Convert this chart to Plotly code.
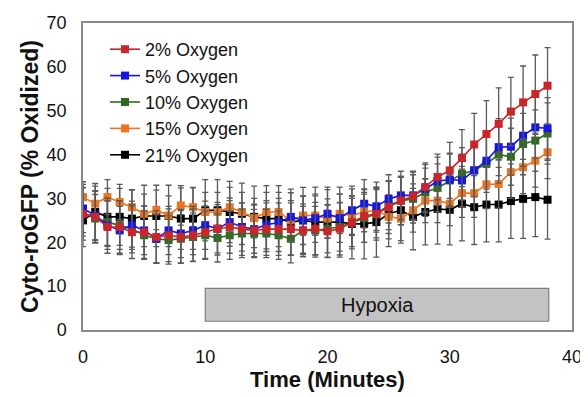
import plotly.graph_objects as go

time_min = list(range(0, 39))

o2_2 = [26.5, 25.8, 23.5, 23.5, 22.3, 22.3, 21.2, 21.6, 21.2, 21.6, 22.3, 23.1, 23.5, 23.0, 22.7, 23.0, 23.0, 23.0, 22.7, 23.1,
        22.5, 23.1, 24.5, 26.0, 26.5, 28.0, 29.5, 30.5, 32.6, 34.9, 36.4, 39.2, 42.3, 44.7, 47.0, 49.8, 51.9, 53.8, 55.7]
o2_5 = [27.7, 26.1, 23.9, 22.7, 23.9, 22.7, 20.8, 22.7, 22.0, 22.7, 23.9, 23.1, 24.6, 23.5, 23.0, 24.0, 24.5, 25.8, 25.0, 25.5,
        26.5, 25.5, 27.3, 28.8, 28.2, 29.9, 30.7, 30.7, 32.2, 33.9, 34.3, 34.1, 36.4, 38.6, 41.7, 41.8, 44.3, 46.2, 46.0]
o2_10 = [26.9, 25.4, 24.6, 23.9, 23.1, 21.6, 20.8, 20.5, 20.8, 21.2, 21.6, 21.0, 21.6, 22.0, 22.0, 22.0, 21.6, 20.8, 22.7, 22.7,
         23.1, 23.5, 24.5, 25.5, 26.5, 28.4, 29.5, 29.9, 31.4, 32.4, 34.1, 35.6, 36.4, 37.9, 40.0, 39.5, 42.4, 43.2, 44.8]
o2_15 = [30.3, 28.8, 30.3, 29.2, 28.0, 26.5, 27.4, 26.1, 28.4, 28.0, 26.9, 26.9, 28.0, 26.9, 25.5, 26.9, 26.9, 25.0, 26.1, 26.1,
         25.4, 26.5, 26.1, 26.9, 27.3, 25.8, 25.4, 27.3, 29.5, 29.5, 28.8, 31.2, 31.2, 33.2, 33.3, 36.0, 37.1, 38.6, 40.5]
o2_21 = [25.0, 26.9, 25.8, 25.8, 25.4, 26.0, 26.0, 26.0, 25.4, 25.4, 27.3, 27.3, 26.9, 26.5, 25.8, 25.4, 25.4, 24.6, 25.0, 24.6,
         24.6, 24.6, 24.2, 24.2, 24.6, 26.5, 27.3, 25.8, 26.9, 27.6, 27.4, 28.8, 28.0, 28.6, 28.6, 29.4, 29.9, 30.3, 29.7]

err_2 = [6.0, 6.0, 6.0, 6.0, 6.0, 6.0, 6.0, 6.0, 6.0, 6.0, 6.0, 6.0, 6.0, 6.0, 6.0, 6.0, 6.0, 6.0, 6.0, 6.0,
         6.0, 6.0, 6.0, 6.0, 6.0, 6.0, 5.5, 5.5, 5.5, 5.2, 6.4, 6.5, 7.1, 7.6, 8.2, 7.8, 8.3, 8.9, 8.7]
err_5 = [5.5, 5.5, 5.5, 5.5, 5.5, 5.5, 5.5, 5.5, 5.5, 5.5, 5.5, 5.5, 5.5, 5.5, 5.5, 5.5, 5.5, 5.5, 5.5, 5.5,
         5.5, 5.5, 5.5, 5.5, 5.5, 5.5, 5.5, 5.5, 5.5, 5.5, 6.0, 6.0, 6.0, 6.5, 6.5, 6.5, 7.0, 7.0, 7.0]
err_10 = [5.5, 5.5, 5.5, 5.5, 5.5, 5.5, 5.5, 5.5, 5.5, 5.5, 5.5, 5.5, 5.5, 5.5, 5.5, 5.5, 5.5, 5.5, 5.5, 5.5,
          5.5, 5.5, 5.5, 5.5, 5.5, 5.5, 5.5, 5.5, 5.5, 5.5, 6.0, 6.0, 6.0, 6.5, 6.5, 6.5, 7.0, 7.0, 7.0]
err_15 = [3.5, 4.0, 4.0, 4.0, 4.0, 4.5, 4.5, 4.5, 4.5, 4.5, 4.5, 4.5, 4.5, 4.5, 4.5, 4.5, 4.5, 4.5, 4.5, 4.5,
          4.5, 4.5, 4.5, 4.5, 5.0, 5.0, 5.0, 5.0, 5.0, 5.0, 5.0, 5.5, 5.5, 5.5, 5.5, 6.0, 6.0, 6.0, 6.0]
err_21 = [6.0, 6.5, 6.5, 6.5, 6.5, 7.0, 7.0, 7.0, 7.0, 7.0, 7.0, 7.0, 7.0, 7.0, 7.0, 7.5, 7.5, 7.5, 7.5, 8.0,
          8.0, 8.0, 8.0, 8.0, 8.0, 7.5, 7.5, 7.5, 7.5, 8.0, 8.0, 8.5, 8.5, 8.5, 8.5, 8.5, 9.0, 9.0, 9.0]

series_names = ["2% Oxygen", "5% Oxygen", "10% Oxygen", "15% Oxygen", "21% Oxygen"]
series_vals = [o2_2, o2_5, o2_10, o2_15, o2_21]
series_errs = [err_2, err_5, err_10, err_15, err_21]
series_colors = ["#c8262b", "#1515e6", "#2f6b1f", "#ea7424", "#000000"]

x_ticks = [0, 10, 20, 30, 40]
y_ticks = [0, 10, 20, 30, 40, 50, 60, 70]
hypoxia_start, hypoxia_end = 10, 38.1
hypoxia_low, hypoxia_high = 2.0, 9.5

fig = go.Figure()

# draw from last to first so red is on top, legend order kept via traceorder
for name, vals, errs, col in reversed(list(zip(series_names, series_vals, series_errs, series_colors))):
    fig.add_trace(go.Scatter(
        x=time_min, y=vals, name=name, mode="lines+markers",
        line=dict(color=col, width=1.6),
        marker=dict(symbol="square", size=8, color=col),
        error_y=dict(type="data", array=errs, visible=True, color="#5a5a5a", thickness=1.3, width=3),
    ))

fig.add_shape(type="rect", x0=hypoxia_start, x1=hypoxia_end, y0=hypoxia_low, y1=hypoxia_high,
              xref="x", yref="y", fillcolor="#c3c3c3", line=dict(color="#7f7f7f", width=1.2), layer="below")
fig.add_annotation(x=(hypoxia_start + hypoxia_end) / 2, y=(hypoxia_low + hypoxia_high) / 2, text="Hypoxia",
                   showarrow=False, font=dict(size=20, color="#111"), xref="x", yref="y")

font_family = "Arial, Liberation Sans, sans-serif"
# page body has an 8px default margin, so the figure is sized to fit inside the window
fig.update_layout(
    width=580, height=389,
    margin=dict(l=75, r=16, t=15, b=67),
    paper_bgcolor="white", plot_bgcolor="white",
    font=dict(family=font_family, color="#111"),
    showlegend=True,
    legend=dict(x=0.045, y=0.974, xanchor="left", yanchor="top", traceorder="reversed",
                font=dict(size=18, color="#111"), bgcolor="rgba(0,0,0,0)", itemwidth=30,
                tracegroupgap=0, itemsizing="trace"),
    xaxis=dict(range=[0, 40], tickvals=x_ticks, showgrid=False, zeroline=False, automargin=False,
               showline=True, mirror=True, linecolor="#8a8a8a", linewidth=1.5,
               ticks="", tickfont=dict(size=18, color="#111"), ticklabelstandoff=10,
               title=dict(text="<b>Time (Minutes)</b>", font=dict(size=22, color="#111"), standoff=0)),
    yaxis=dict(range=[0, 70], tickvals=y_ticks, showgrid=False, zeroline=False, automargin=False,
               showline=True, mirror=True, linecolor="#8a8a8a", linewidth=1.5,
               ticks="", tickfont=dict(size=18, color="#111"), ticklabelstandoff=11,
               title=dict(text="<b>Cyto-roGFP (% Oxidized)</b>", font=dict(size=23, color="#111"), standoff=2)),
)

fig.write_html("out.html")
